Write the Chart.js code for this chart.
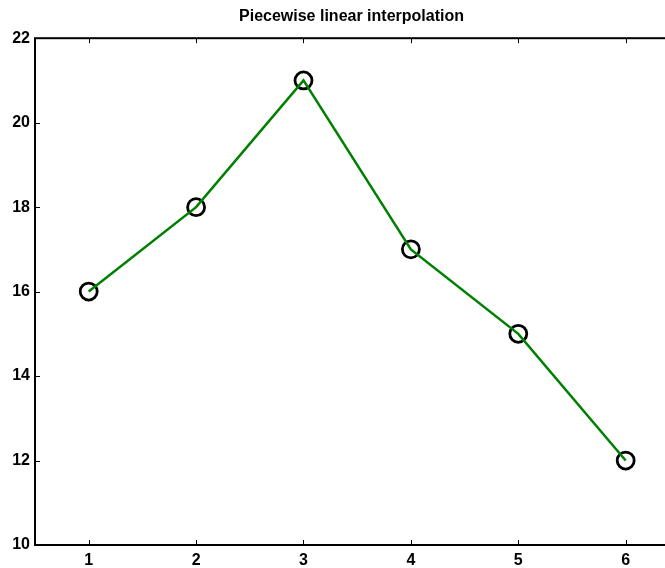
<!DOCTYPE html>
<html>
<head>
<meta charset="utf-8">
<script src="https://cdn.jsdelivr.net/npm/chart.js@4"></script>
<style>
  html,body{margin:0;padding:0;background:#fff;overflow:hidden;}
  #wrap{width:703px;height:568px;}
</style>
</head>
<body>
<div id="wrap"><canvas id="grafica" width="703" height="568"></canvas></div>
<script>
// datos
const xs = [1, 2, 3, 4, 5, 6]
const ys = [16, 18, 21, 17, 15, 12]
const xTicks = [1, 2, 3, 4, 5, 6]
const yTicks = [10, 12, 14, 16, 18, 20, 22]
const titulo = 'Piecewise linear interpolation'

const puntos = xs.map((x, i) => ({x: x, y: ys[i]}))
const fuente = '"Liberation Sans", Arial, Helvetica, sans-serif'

// caja y marcas hacia dentro, estilo matlab
const cajaPlugin = {
    id: 'caja',
    beforeDatasetsDraw(chart){
        const ctx = chart.ctx
        const a = chart.chartArea
        const sx = chart.scales.x
        const sy = chart.scales.y
        const tl = 5
        ctx.save()
        ctx.strokeStyle = '#000'
        ctx.lineWidth = 1
        xTicks.forEach(v => {
            const px = Math.round(sx.getPixelForValue(v)) + 0.5
            ctx.beginPath()
            ctx.moveTo(px, a.bottom); ctx.lineTo(px, a.bottom - tl)
            ctx.moveTo(px, a.top); ctx.lineTo(px, a.top + tl)
            ctx.stroke()
        })
        yTicks.forEach(v => {
            const py = Math.round(sy.getPixelForValue(v)) + 0.5
            ctx.beginPath()
            ctx.moveTo(a.left, py); ctx.lineTo(a.left + tl, py)
            ctx.moveTo(a.right, py); ctx.lineTo(a.right - tl, py)
            ctx.stroke()
        })
        ctx.lineWidth = 2
        ctx.strokeRect(a.left, a.top, a.right - a.left, a.bottom - a.top)
        ctx.restore()
    }
}

const canvas = document.getElementById('grafica')
const chart = new Chart(canvas.getContext('2d'), {
    type: 'line',
    data: {
        datasets: [
            {
                label: 'interpolacion',
                data: puntos,
                borderColor: '#008000',
                borderWidth: 2.5,
                pointRadius: 0,
                fill: false,
                tension: 0,
                order: 0
            },
            {
                label: 'datos',
                data: puntos,
                showLine: false,
                pointStyle: 'circle',
                pointRadius: 8.5,
                pointBorderWidth: 2.8,
                pointBorderColor: '#000',
                pointBackgroundColor: 'transparent',
                order: 1
            }
        ]
    },
    options: {
        responsive: false,
        animation: false,
        layout: {padding: 0, autoPadding: false},
        plugins: {
            legend: {display: false},
            tooltip: {enabled: false},
            title: {
                display: true,
                text: titulo,
                color: '#000',
                font: {family: fuente, size: 16, weight: 'bold'},
                padding: {top: 7, bottom: 12}
            }
        },
        scales: {
            x: {
                type: 'linear',
                min: 0.5,
                max: 6.72,
                grid: {display: false, drawTicks: false},
                border: {display: false},
                afterBuildTicks: s => { s.ticks = xTicks.map(v => ({value: v})) },
                afterFit: s => { s.height = 23; s.paddingLeft = 0; s.paddingRight = 0 },
                ticks: {
                    color: '#000',
                    padding: 6,
                    font: {family: fuente, size: 16, weight: 'bold'}
                }
            },
            y: {
                min: 10,
                max: 22,
                grid: {display: false, drawTicks: false},
                border: {display: false},
                afterBuildTicks: s => { s.ticks = yTicks.map(v => ({value: v})) },
                afterFit: s => { s.width = 35 },
                ticks: {
                    color: '#000',
                    padding: 5,
                    font: {family: fuente, size: 16, weight: 'bold'}
                }
            }
        }
    },
    plugins: [cajaPlugin]
})
</script>
</body>
</html>
